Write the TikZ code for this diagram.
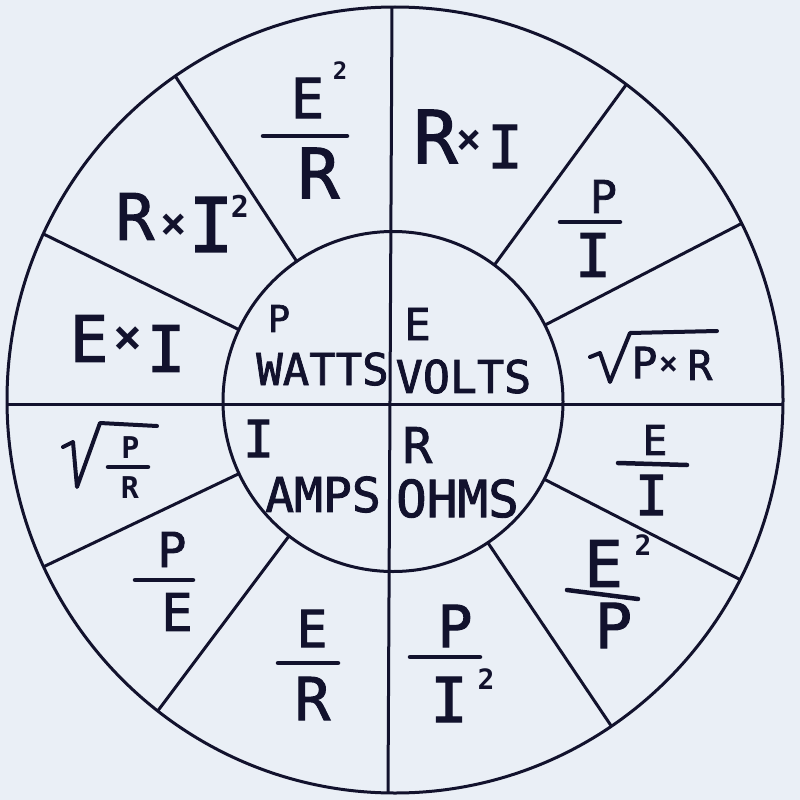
\documentclass[tikz,border=0pt]{standalone}
\usepackage{fontspec}
\newfontfamily\hand[FakeBold=1.8]{DejaVu Sans Mono}
\newfontfamily\handbold{DejaVu Sans Mono Bold}
\usetikzlibrary{calc}
\definecolor{ink}{RGB}{18,18,45}
\definecolor{paper}{RGB}{234,239,246}
\newcommand\fsz[1]{\fontsize{#1}{#1}\selectfont}
\begin{document}
\begin{tikzpicture}[x=1pt,y=-1pt,
  wheel/.style={draw=ink,line width=3pt},
  fbar/.style={draw=ink,line width=4.5pt,line cap=round},
  rad/.style={draw=ink,line width=4pt,line cap=round,line join=round},
  lab/.style={inner sep=0pt,text=ink,font=\hand\fsz{#1}},
  sup/.style={inner sep=0pt,text=ink,font=\handbold\fsz{#1}}]
\fill[paper] (0,0) rectangle (800,800);
\useasboundingbox (0,0) rectangle (800,800);

% wheel
\coordinate (oc) at (395,400);
\coordinate (ic) at (393,401.5);
\draw[wheel] (oc) ellipse [x radius=388pt, y radius=393pt];
\draw[wheel] (ic) circle [radius=170pt];
\coordinate (vt) at (392,7);
\coordinate (vb) at (388,793);
\coordinate (hl) at (7,404);
\coordinate (hr) at (783,404);
\draw[wheel] (vt) -- (vb);
\draw[wheel] (hl) -- (hr);
\foreach \t in {124.5,155,53.4,26.7,205.1,232.3,-27.2,-56.1}{
  \draw[wheel] ($(ic)+({170*cos(\t)},{-170*sin(\t)})$) -- ($(oc)+({388*cos(\t)},{-393*sin(\t)})$);
}

% inner labels
\node[lab=37] (p0) at (279,318.5) {P};
\node[lab=44] (watts) at (322.5,369) {WATTS};
\node[lab=44] (e0) at (417.5,324) {E};
\node[lab=45] (volts) at (463.5,376.5) {VOLTS};
\node[lab=51] (i0) at (258.5,438.5) {I};
\node[lab=48] (amps) at (323,494.5) {AMPS};
\node[lab=49] (r0) at (417.5,445) {R};
\node[lab=51] (ohms) at (457.5,498.5) {OHMS};

% E^2 / R
\node[lab=55] (aE) at (307.5,98) {E};
\node[sup=24] (a2) at (340,71) {2};
\draw[fbar] (263,136) -- (347,136);
\node[lab=69] (aR) at (318.5,173) {R};

% R x I^2
\node[lab=64] (bR) at (135,216.5) {R};
\node[sup=44] (bx) at (174,226) {×};
\node[lab=75] (bI) at (211,224.5) {I};
\node[sup=30] (b2) at (240,206.5) {2};

% E x I
\node[lab=64] (cE) at (89,338.5) {E};
\node[sup=48] (cx) at (128,340) {×};
\node[lab=64] (cI) at (166,348.5) {I};

% sqrt(P/R)
\draw[rad] (63,447) -- (73,442) -- (77,487) -- (100,423) -- (157,426);
\node[sup=30] (dP) at (130.5,447.5) {P};
\draw[fbar] (108,467) -- (148,467);
\node[sup=30] (dR) at (130,487.5) {R};

% P / E
\node[lab=48] (eP) at (172,549.5) {P};
\draw[fbar] (135,580) -- (193,580);
\node[lab=52] (eE) at (177,612) {E};

% E / R
\node[lab=51] (fE) at (312,628.5) {E};
\draw[fbar] (278,663) -- (338,663);
\node[lab=59] (fR) at (312.5,698.5) {R};

% P / I^2
\node[lab=58] (gP) at (455,626) {P};
\draw[fbar] (410,657) -- (480,657);
\node[lab=62] (gI) at (449,699.5) {I};
\node[sup=28] (g2) at (486,679.5) {2};

% E^2 / P
\node[lab=64] (hE) at (603.5,563.5) {E};
\node[sup=28] (h2) at (643,545.5) {2};
\draw[fbar] (567,590) -- (638,599);
\node[lab=62] (hP) at (613.5,625.5) {P};

% E / I
\node[lab=41] (iE) at (655,440) {E};
\draw[fbar] (618,463) -- (687,465);
\node[lab=55] (iI) at (651.5,495) {I};

% sqrt(P x R)
\draw[rad] (590,357) -- (600,353) -- (610,382) -- (630,333) -- (717,331);
\node[lab=43] (jP) at (644.5,362.5) {P};
\node[sup=32] (jx) at (668.5,366) {×};
\node[lab=41] (jR) at (700,365) {R};

% P / I
\node[lab=45] (kP) at (603.5,196.5) {P};
\draw[fbar] (560,222) -- (620,222);
\node[lab=60] (kI) at (593,255) {I};

% R x I
\node[lab=73] (lR) at (435.5,136.5) {R};
\node[sup=42] (lx) at (469,141.5) {×};
\node[lab=59] (lI) at (505,146.5) {I};
\end{tikzpicture}
\end{document}
